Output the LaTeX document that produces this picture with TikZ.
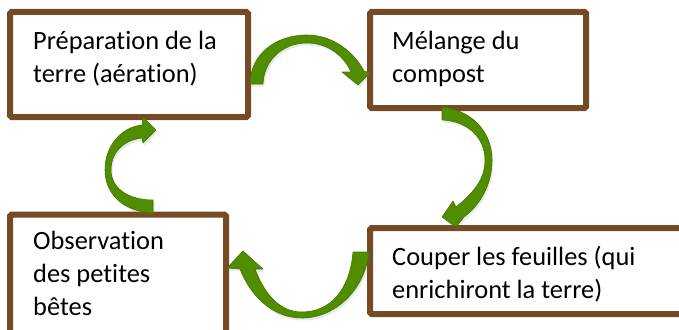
\documentclass[tikz,border=0pt]{standalone}
\usepackage{fontspec}
\setmainfont{Carlito}[Ligatures={NoCommon}]
\usetikzlibrary{shadows}
\definecolor{boxbrown}{RGB}{117,74,36}
\definecolor{arrowgreen}{RGB}{80,142,0}
\definecolor{arrowdark}{RGB}{62,118,0}
\tikzset{
  stagebox/.style={draw=boxbrown, line width=6pt, fill=white, rounded corners=1.5pt},
  stagetext/.style={anchor=base west, align=left, inner sep=0pt, text=black,
     font=\fontsize{26.4}{33}\selectfont},
  cyclearrow/.style={fill=arrowgreen, draw=arrowdark, line width=0.6pt, line join=round,
     drop shadow={opacity=0.18, shadow xshift=1.5pt, shadow yshift=-2.5pt}}
}
\begin{document}
\begin{tikzpicture}[x=1pt, y=-1pt]
\useasboundingbox (0,0) rectangle (679,329);
% boxes
\draw[stagebox] (10,12) rectangle (248,117);
\coordinate (b1) at (129,64);
\draw[stagebox] (370,12) rectangle (586,108);
\coordinate (b2) at (478,60);
\draw[stagebox] (370,228) rectangle (700,314);
\coordinate (b3) at (520,271);
\draw[stagebox] (10,214.5) rectangle (226,345);
\coordinate (b4) at (118,280);
% texts (anchored at the baseline of the last line)
\node[stagetext] (t1) at (33,82) {Préparation de la\\terre (aération)};
\node[stagetext] (t2) at (392,82) {Mélange du\\compost};
\node[stagetext] (t3) at (392,298) {Couper les feuilles (qui\\enrichiront la terre)};
\node[stagetext] (t4) at (33,315) {Observation\\des petites\\bêtes};
% arrow 1: box1 -> box2
\fill[cyclearrow] (250,84) .. controls (250,55) and (275,35) .. (307,35)
  .. controls (333,35) and (354,52) .. (364,71)
  -- (370,73) -- (358,85) -- (342,72) -- (351,72)
  .. controls (344,56) and (328,43) .. (307,43)
  .. controls (283,43) and (264,60) .. (263,84) -- cycle;
% arrow 2: box2 -> box3
\fill[cyclearrow] (442,107) .. controls (470,110) and (492,130) .. (492,160)
  .. controls (492,185) and (480,205) .. (464,217)
  -- (456,227) -- (442,217) -- (453,201) -- (456,207)
  .. controls (473,193) and (485,180) .. (485,160)
  .. controls (485,138) and (468,121) .. (442,120) -- cycle;
% arrow 3: box3 -> box4
\fill[cyclearrow] (369,252) .. controls (365,290) and (335,318) .. (302,318)
  .. controls (272,318) and (250,295) .. (240,269)
  -- (227,268) -- (243,251) -- (263,269) -- (255,269)
  .. controls (265,295) and (280,312) .. (302,312)
  .. controls (330,312) and (350,290) .. (353,252) -- cycle;
% arrow 4: box4 -> box1
\fill[cyclearrow] (153,213) .. controls (125,212) and (105,195) .. (105,170)
  .. controls (105,145) and (122,127) .. (142,125)
  -- (143,117) -- (156,130) -- (143,143) -- (142,138)
  .. controls (124,140) and (111,152) .. (111,170)
  .. controls (111,188) and (128,200) .. (153,200) -- cycle;
\end{tikzpicture}
\end{document}
